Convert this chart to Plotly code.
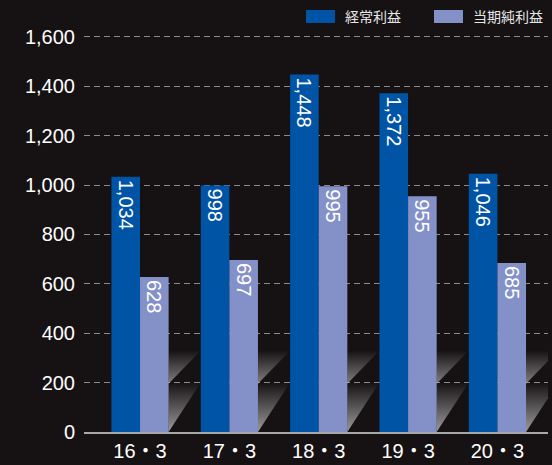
import plotly.graph_objects as go

categories = ["16・3", "17・3", "18・3", "19・3", "20・3"]
ordinary_profit = [1034, 998, 1448, 1372, 1046]
net_income = [628, 697, 995, 955, 685]
series_names = ["経常利益", "当期純利益"]
y_ticks = [0, 200, 400, 600, 800, 1000, 1200, 1400, 1600]

W, H = 552, 465
ML, MR, MT, MB = 84, 4, 35, 33
Y_MAX = 1608
BG = "#161213"
BLUE = "#0054a6"
LIGHT = "#8491c8"
BARGAP = 0.36
FONT = "Liberation Sans, Arial, Noto Sans CJK JP"

x_idx = list(range(len(categories)))
fig = go.Figure()

# decorative diagonal shadows in the gaps between groups
half = (1 - BARGAP) / 2
for i in x_idx:
    L, R = i + half, i + 1 - half
    fig.add_trace(go.Scatter(
        x=[L, R, L, L], y=[0, 200, 200, 0], mode="lines", line=dict(width=0),
        fill="toself", hoverinfo="skip", showlegend=False,
        fillgradient=dict(type="vertical",
                          colorscale=[[0, "rgba(200,200,200,0.75)"], [1, "rgba(200,200,200,0)"]])))
    fig.add_trace(go.Scatter(
        x=[L, R, L, L], y=[195, 330, 330, 195], mode="lines", line=dict(width=0),
        fill="toself", hoverinfo="skip", showlegend=False,
        fillgradient=dict(type="vertical",
                          colorscale=[[0, "rgba(200,200,200,0.6)"], [1, "rgba(200,200,200,0)"]])))

fig.add_trace(go.Bar(x=x_idx, y=ordinary_profit, name=series_names[0], marker_color=BLUE,
                     marker_line_width=0,
                     text=[f"{v:,}" for v in ordinary_profit], textposition="inside",
                     insidetextanchor="end", textangle=90,
                     textfont=dict(color="white", size=20, family=FONT)))
fig.add_trace(go.Bar(x=x_idx, y=net_income, name=series_names[1], marker_color=LIGHT,
                     marker_line_width=0,
                     text=[f"{v:,}" for v in net_income], textposition="inside",
                     insidetextanchor="end", textangle=90,
                     textfont=dict(color="white", size=20, family=FONT)))

# manual legend
pw, ph = W - ML - MR, H - MT - MB
def px(x):
    return (x - ML) / pw
def py(y):
    return (H - MB - y) / ph

shapes = []
annotations = []
for (x0, x1, tx), col, name in zip([(306, 335, 343), (434, 463, 471)], [BLUE, LIGHT], series_names):
    shapes.append(dict(type="rect", xref="paper", yref="paper", x0=px(x0), x1=px(x1),
                       y0=py(23), y1=py(10), fillcolor=col, line_width=0))
    annotations.append(dict(xref="paper", yref="paper", x=px(tx), y=py(16.5), xanchor="left",
                            yanchor="middle", text=name, showarrow=False,
                            font=dict(color="#e6e6e6", size=14, family="Noto Sans CJK JP")))

fig.update_layout(
    width=W, height=H, margin=dict(l=ML, r=MR, t=MT, b=MB),
    paper_bgcolor=BG, plot_bgcolor=BG,
    barmode="group", bargap=BARGAP, bargroupgap=0,
    showlegend=False, shapes=shapes, annotations=annotations,
    uniformtext=dict(minsize=20, mode="show"),
    font=dict(family=FONT, color="white"),
)
fig.update_xaxes(range=[-0.627, 4.566], tickvals=x_idx, ticktext=categories,
                 showgrid=False, zeroline=False, showline=True, linecolor="#a8a8a8",
                 linewidth=2, ticks="", tickfont=dict(size=20, color="white", family=FONT))
fig.update_yaxes(range=[0, Y_MAX], tickvals=y_ticks, tickformat=",", showgrid=True,
                 gridcolor="#8a8a8a", gridwidth=1, griddash="6px,4px", zeroline=False,
                 showline=False, ticks="", ticklabelstandoff=8,
                 tickfont=dict(size=20, color="white", family=FONT))

fig.write_html("out.html")
